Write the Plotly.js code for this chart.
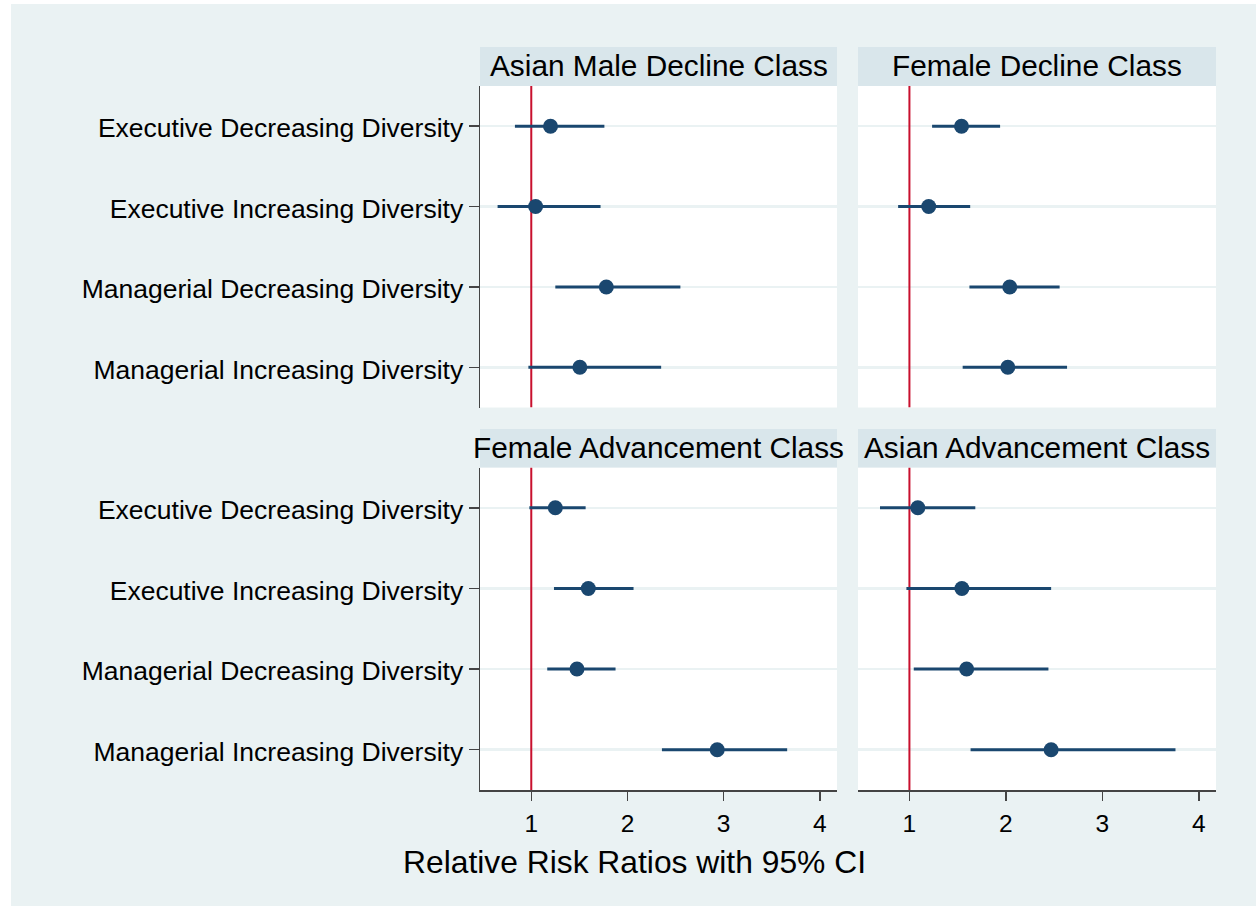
<!DOCTYPE html>
<html>
<head>
<meta charset="utf-8">
<script src="https://cdn.plot.ly/plotly-3.0.1.min.js"></script>
<style>html,body{margin:0;padding:0;background:#fff;}#chart{width:1256px;height:906px;}</style>
</head>
<body>
<div id="chart"></div>
<script>
// ---- data ----
const categories = ["Executive Decreasing Diversity", "Executive Increasing Diversity", "Managerial Decreasing Diversity", "Managerial Increasing Diversity"];
const panelTitles = ["Asian Male Decline Class", "Female Decline Class", "Female Advancement Class", "Asian Advancement Class"];
const xTickVals = [1, 2, 3, 4];
const xTitle = "Relative Risk Ratios with 95% CI";
const refLine = 1;

const asianMaleDeclineRR = [1.20, 1.045, 1.78, 1.505];
const asianMaleDeclineLo = [0.83, 0.65, 1.25, 0.97];
const asianMaleDeclineHi = [1.76, 1.72, 2.55, 2.35];

const femaleDeclineRR = [1.54, 1.20, 2.04, 2.02];
const femaleDeclineLo = [1.235, 0.883, 1.622, 1.552];
const femaleDeclineHi = [1.94, 1.63, 2.557, 2.634];

const femaleAdvancementRR = [1.25, 1.593, 1.475, 2.933];
const femaleAdvancementLo = [0.98, 1.236, 1.166, 2.358];
const femaleAdvancementHi = [1.565, 2.063, 1.876, 3.66];

const asianAdvancementRR = [1.087, 1.544, 1.593, 2.469];
const asianAdvancementLo = [0.695, 0.969, 1.045, 1.634];
const asianAdvancementHi = [1.683, 2.469, 2.441, 3.758];

// ---- layout geometry (pixels) ----
const W = 1256, H = 906;
const colX = [[480, 837], [858, 1216]];
const rowY = [[86, 407.5], [467.5, 790]];
const stripY = [[47, 86], [429, 467.5]];
const navy = "#1a476f";
const red = "#c8102e";
const bg = "#eaf2f3";

const series = [
  [asianMaleDeclineRR, asianMaleDeclineLo, asianMaleDeclineHi],
  [femaleDeclineRR, femaleDeclineLo, femaleDeclineHi],
  [femaleAdvancementRR, femaleAdvancementLo, femaleAdvancementHi],
  [asianAdvancementRR, asianAdvancementLo, asianAdvancementHi]
];
const yPos = categories.map((c, i) => i + 1);
const yRange = [4.5, 0.5];

const px = v => v / W;
const py = v => 1 - v / H;

const traces = [];
const layout = {
  width: W, height: H,
  margin: {l: 0, r: 0, t: 0, b: 0},
  paper_bgcolor: bg,
  plot_bgcolor: "#ffffff",
  showlegend: false,
  font: {family: "Liberation Sans, Arial, sans-serif", color: "#000"},
  shapes: [],
  annotations: []
};

series.forEach((s, k) => {
  const [rr, lo, hi] = s;
  const sfx = k === 0 ? "" : String(k + 1);
  const col = k % 2, row = Math.floor(k / 2);
  // reference line (drawn as a trace: above gridlines, below markers)
  traces.push({
    type: "scatter", mode: "lines",
    x: [refLine, refLine], y: [yRange[1], yRange[0]],
    xaxis: "x" + sfx, yaxis: "y" + sfx,
    line: {color: red, width: 2},
    hoverinfo: "skip", cliponaxis: true
  });
  traces.push({
    type: "scatter", mode: "markers",
    x: rr, y: yPos,
    xaxis: "x" + sfx, yaxis: "y" + sfx,
    marker: {color: navy, size: 15},
    error_x: {
      type: "data", symmetric: false,
      array: rr.map((v, i) => hi[i] - v),
      arrayminus: rr.map((v, i) => v - lo[i]),
      color: navy, thickness: 3, width: 0
    },
    hoverinfo: "x+y"
  });
  layout["xaxis" + sfx] = {
    domain: [px(colX[col][0]), px(colX[col][1])],
    anchor: "y" + sfx,
    range: [0.467, 4.178],
    tickvals: xTickVals,
    ticktext: xTickVals.map(String),
    showgrid: false, zeroline: false,
    showline: row === 1, linecolor: "#444", linewidth: 1.5,
    ticks: row === 1 ? "outside" : "", ticklen: 9, tickwidth: 1.5, tickcolor: "#444",
    showticklabels: row === 1,
    ticklabelstandoff: 2,
    tickfont: {size: 24.5, color: "#000"}
  };
  layout["yaxis" + sfx] = {
    domain: [py(rowY[row][1]), py(rowY[row][0])],
    anchor: "x" + sfx,
    range: yRange,
    tickvals: yPos,
    ticktext: categories,
    showgrid: true, gridcolor: bg, gridwidth: 2.5,
    zeroline: false,
    showline: col === 0, linecolor: "#444", linewidth: 1.5,
    ticks: col === 0 ? "outside" : "", ticklen: 10, tickwidth: 1.5, tickcolor: "#444",
    showticklabels: col === 0,
    ticklabelshift: -2,
    tickfont: {size: 26.5, color: "#000"}
  };
  // strip header
  layout.shapes.push({
    type: "rect", xref: "paper", yref: "paper",
    x0: px(colX[col][0]), x1: px(colX[col][1]),
    y0: py(stripY[row][1]), y1: py(stripY[row][0]),
    fillcolor: "#d9e6eb", line: {width: 0}, layer: "below"
  });
  layout.annotations.push({
    xref: "paper", yref: "paper",
    x: px((colX[col][0] + colX[col][1]) / 2),
    y: py((stripY[row][0] + stripY[row][1]) / 2 - 1),
    text: panelTitles[k], showarrow: false,
    xanchor: "center", yanchor: "middle",
    font: {size: 29.8, color: "#000"}
  });
});

// white page edges
layout.shapes.push({type: "rect", xref: "paper", yref: "paper", x0: 0, x1: px(11), y0: 0, y1: 1, fillcolor: "#ffffff", line: {width: 0}, layer: "below"});
layout.shapes.push({type: "rect", xref: "paper", yref: "paper", x0: 0, x1: 1, y0: py(4), y1: 1, fillcolor: "#ffffff", line: {width: 0}, layer: "below"});

layout.annotations.push({
  xref: "paper", yref: "paper",
  x: px(634.5), y: py(862),
  text: xTitle, showarrow: false,
  xanchor: "center", yanchor: "middle",
  font: {size: 31.8, color: "#000"}
});

Plotly.newPlot("chart", traces, layout, {staticPlot: true, displayModeBar: false});
</script>
</body>
</html>
